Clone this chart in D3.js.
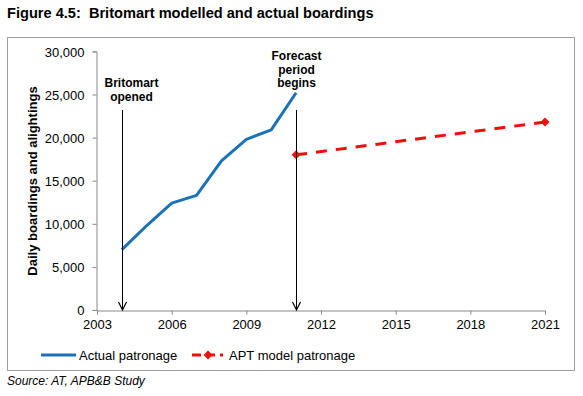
<!DOCTYPE html>
<html>
<head>
<meta charset="utf-8">
<script src="https://cdn.jsdelivr.net/npm/d3@7"></script>
<style>
  body { margin: 0; background: #fff; }
  svg { display: block; font-family: "Liberation Sans", Arial, sans-serif; }
</style>
</head>
<body>
<svg width="583" height="396"></svg>
<script>
var svg = d3.select('svg');

// data
var actualYears = [2004, 2005, 2006, 2007, 2008, 2009, 2010, 2011];
var actualValues = [7000, 9800, 12400, 13300, 17300, 19800, 20900, 25200];
var modelYears = [2011, 2021];
var modelValues = [18000, 21800];
var xTicks = [2003, 2006, 2009, 2012, 2015, 2018, 2021];
var yTicks = [0, 5000, 10000, 15000, 20000, 25000, 30000];
var markerYears = [2004, 2011];
var markerLabels = [["Britomart", "opened"], ["Forecast", "period", "begins"]];

var blue = '#1b72b8';
var red = '#f20d0d';

var x = d3.scaleLinear().domain([2003, 2021]).range([97, 545]);
var y = d3.scaleLinear().domain([0, 30000]).range([310, 51.4]);

// title
svg.append('text')
  .attr('x', 7).attr('y', 18)
  .attr('font-size', 14.6).attr('font-weight', 'bold')
  .text('Figure 4.5:  Britomart modelled and actual boardings')
  .style('white-space', 'pre');

// chart frame
svg.append('rect')
  .attr('x', 7.5).attr('y', 37.5)
  .attr('width', 567).attr('height', 333)
  .attr('fill', 'none').attr('stroke', '#a0a0a0');

// axes
var yAxis = d3.axisLeft(y).tickValues(yTicks).tickSize(4).tickPadding(8)
  .tickFormat(d3.format(','));
var gy = svg.append('g').attr('transform', 'translate(96.5,0)').call(yAxis);

var xAxis = d3.axisBottom(x).tickValues(xTicks).tickSize(4).tickPadding(5)
  .tickFormat(d3.format('d'));
var gx = svg.append('g').attr('transform', 'translate(0,310.5)').call(xAxis);

[gx, gy].forEach(function (g) {
  g.select('.domain').attr('stroke', '#888');
  g.selectAll('.tick line').attr('stroke', '#888');
  g.selectAll('.tick text').attr('font-size', 13).attr('fill', '#000')
    .attr('font-family', '"Liberation Sans", Arial, sans-serif');
});
gy.selectAll('.tick text').attr('dy', '0.36em');

// y axis title
svg.append('text')
  .attr('transform', 'translate(37,181) rotate(-90)')
  .attr('text-anchor', 'middle')
  .attr('font-size', 13).attr('font-weight', 'bold')
  .text('Daily boardings and alightings');

// actual line
var line = d3.line()
  .x(function (d) { return x(d[0]); })
  .y(function (d) { return y(d[1]); });

svg.append('path')
  .datum(d3.zip(actualYears, actualValues))
  .attr('d', line)
  .attr('fill', 'none')
  .attr('stroke', blue)
  .attr('stroke-width', 3)
  .attr('stroke-linejoin', 'round');

// model line
var modelData = d3.zip(modelYears, modelValues);
svg.append('path')
  .datum(modelData)
  .attr('d', line)
  .attr('fill', 'none')
  .attr('stroke', red)
  .attr('stroke-width', 3)
  .attr('stroke-dasharray', '11,9');

var diamond = d3.symbol().type(d3.symbolSquare).size(40);
svg.selectAll('.marker')
  .data(modelData)
  .enter()
  .append('path')
  .attr('class', 'marker')
  .attr('d', diamond)
  .attr('transform', function (d) {
    return 'translate(' + x(d[0]) + ',' + y(d[1]) + ') rotate(45)';
  })
  .attr('fill', red);

// annotation arrows
markerYears.forEach(function (yr, i) {
  var ax = Math.round(x(yr)) + 0.5;
  var top = 110, bottom = y(0);
  svg.append('line')
    .attr('x1', ax).attr('x2', ax)
    .attr('y1', top).attr('y2', bottom)
    .attr('stroke', '#000').attr('stroke-width', 1);
  svg.append('path')
    .attr('d', 'M' + (ax - 4) + ',' + (bottom - 8) + 'L' + ax + ',' + bottom + 'L' + (ax + 4) + ',' + (bottom - 8))
    .attr('fill', 'none').attr('stroke', '#000').attr('stroke-width', 1.2);

  var lines = markerLabels[i];
  var cx = i === 0 ? ax + 9 : ax;
  var startY = i === 0 ? 87 : 60;
  var t = svg.append('text')
    .attr('text-anchor', 'middle')
    .attr('font-size', 12).attr('font-weight', 'bold');
  lines.forEach(function (s, j) {
    t.append('tspan').attr('x', cx).attr('y', startY + j * 13.5).text(s);
  });
});

// legend
var lg = svg.append('g');
lg.append('line')
  .attr('x1', 41).attr('x2', 76).attr('y1', 355).attr('y2', 355)
  .attr('stroke', blue).attr('stroke-width', 3);
lg.append('text').attr('x', 79).attr('y', 359.5).attr('font-size', 13)
  .text('Actual patronage');

lg.append('line')
  .attr('x1', 192).attr('x2', 223).attr('y1', 355).attr('y2', 355)
  .attr('stroke', red).attr('stroke-width', 3)
  .attr('stroke-dasharray', '9,5');
lg.append('path')
  .attr('d', diamond)
  .attr('transform', 'translate(208,355) rotate(45)')
  .attr('fill', red);
lg.append('text').attr('x', 229).attr('y', 359.5).attr('font-size', 13)
  .text('APT model patronage');

// source
svg.append('text')
  .attr('x', 7).attr('y', 385)
  .attr('font-size', 12).attr('font-style', 'italic')
  .text('Source: AT, APB&B Study');
</script>
</body>
</html>
